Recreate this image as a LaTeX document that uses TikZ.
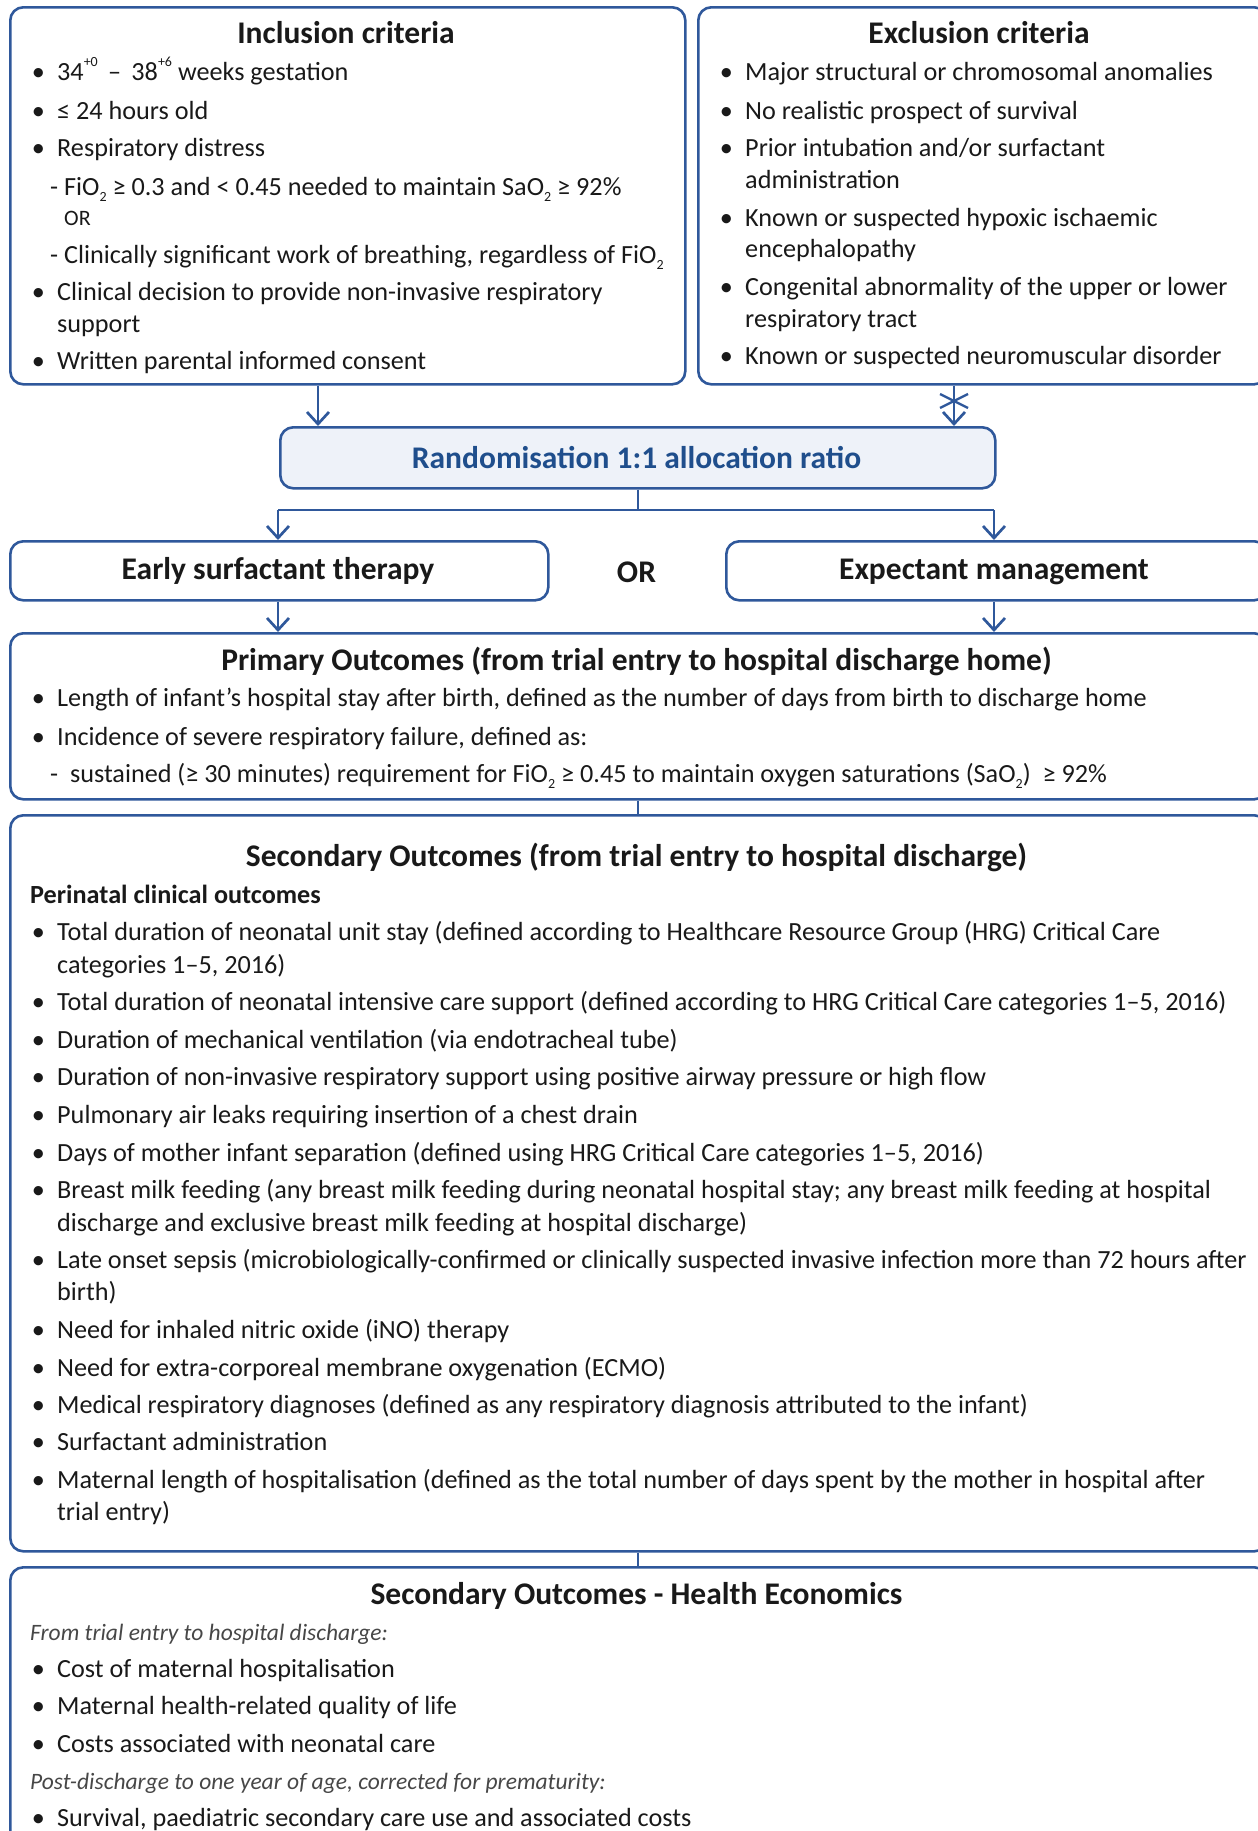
\documentclass[tikz,border=0pt]{standalone}
\usepackage{fontspec}
\setmainfont{Carlito}
\usetikzlibrary{arrows.meta}
\definecolor{bblue}{RGB}{47,88,155}
\definecolor{tblue}{RGB}{31,78,140}
\definecolor{rfill}{RGB}{238,242,249}
\definecolor{txtc}{RGB}{25,25,25}
\newcommand\subtwo{\raisebox{-0.55ex}{\fontsize{14}{14}\selectfont 2}}
\newcommand\supx[1]{\raisebox{1.05ex}{\fontsize{14}{14}\selectfont #1}}
\newcommand\bodyf{\fontsize{26.2}{30}\selectfont}
\newcommand\titf{\fontsize{31.5}{36}\selectfont\bfseries}
\tikzset{
  boxst/.style={draw=bblue, line width=2.6pt, rounded corners=13pt, rectangle, anchor=north west, inner sep=0pt},
  txt/.style={anchor=base west, inner sep=0pt, text=txtc, font=\bodyf},
  bul/.style={anchor=base, inner sep=0pt, text=txtc, font=\bodyf},
  tit/.style={anchor=base, inner sep=0pt, text=txtc, font=\titf},
  itl/.style={anchor=base west, inner sep=0pt, text=txtc!80, font=\fontsize{23.5}{28}\selectfont\itshape},
  arr/.style={draw=bblue, line width=2.7pt, -{Straight Barb[length=12pt,width=22pt]}},
  ln/.style={draw=bblue, line width=2.6pt},
}
\newcommand\bitem[4]{%
  \node[bul] (#1b) at ({#2-18.5},#3) {•};
  \node[txt] (#1) at (#2,#3) {#4};}
\begin{document}
\begin{tikzpicture}[x=1pt,y=-1pt]
\useasboundingbox (0,0) rectangle (1258,1831);
\clip (0,0) rectangle (1258,1831);
% boxes
\node[boxst, minimum width=675pt, minimum height=377pt] (inc) at (9,6) {};
\node[boxst, minimum width=569pt, minimum height=377pt] (exc) at (697,6) {};
\node[boxst, fill=rfill, minimum width=715pt, minimum height=61pt] (rnd) at (279,426) {};
\node[boxst, minimum width=538pt, minimum height=59pt] (early) at (9,540) {};
\node[boxst, minimum width=541pt, minimum height=59pt] (expt) at (725,540) {};
\node[boxst, minimum width=1257pt, minimum height=166pt] (prim) at (9,632) {};
\node[boxst, minimum width=1257pt, minimum height=736pt] (sec) at (9,814) {};
\node[boxst, minimum width=1257pt, minimum height=300pt] (he) at (9,1566) {};

% inclusion
\node[tit] (inct) at (346,43) {Inclusion criteria};
\bitem{i1}{57}{80}{34\supx{+0} \,–\, 38\supx{+6} weeks gestation}
\bitem{i2}{57}{119}{≤ 24 hours old}
\bitem{i3}{57}{156}{Respiratory distress}
\node[txt] (i4) at (50,195) {- FiO\subtwo{} ≥ 0.3 and < 0.45 needed to maintain SaO\subtwo{} ≥ 92\%};
\node[txt, font=\fontsize{22}{25}\selectfont] (i5) at (64,225) {OR};
\node[txt] (i6) at (50,263) {- Clinically significant work of breathing, regardless of FiO\subtwo};
\bitem{i7}{57}{300}{Clinical decision to provide non-invasive respiratory}
\node[txt] (i8) at (57,332) {support};
\bitem{i9}{57}{369}{Written parental informed consent}

% exclusion
\node[tit] (exct) at (979,43) {Exclusion criteria};
\bitem{e1}{745}{80}{Major structural or chromosomal anomalies}
\bitem{e2}{745}{119}{No realistic prospect of survival}
\bitem{e3}{745}{156}{Prior intubation and/or surfactant}
\node[txt] (e4) at (745,188) {administration};
\bitem{e5}{745}{226}{Known or suspected hypoxic ischaemic}
\node[txt] (e6) at (745,257) {encephalopathy};
\bitem{e7}{745}{295}{Congenital abnormality of the upper or lower}
\node[txt] (e8) at (745,327) {respiratory tract};
\bitem{e9}{745}{364}{Known or suspected neuromuscular disorder}

% randomisation
\node[tit, text=tblue] (rndt) at (636.5,468) {Randomisation 1:1 allocation ratio};
\node[tit] (earlyt) at (278,579) {Early surfactant therapy};
\node[tit] (ort) at (636.5,582) {OR};
\node[tit] (exptt) at (994,579) {Expectant management};

% connectors
\coordinate (ax1) at (318,0);
\coordinate (ax2) at (954,0);
\coordinate (bl) at (278,0);
\coordinate (br) at (994,0);
\coordinate (bj) at (0,510);
\draw[arr] (inc.south -| ax1) -- (rnd.north -| ax1);
\draw[arr] (exc.south -| ax2) -- (rnd.north -| ax2);
\coordinate (xc) at (954,401);
\draw[ln, line width=2.4pt] ([xshift=-14pt,yshift=-7pt]xc) -- ([xshift=14pt,yshift=7pt]xc);
\draw[ln, line width=2.4pt] ([xshift=-14pt,yshift=7pt]xc) -- ([xshift=14pt,yshift=-7pt]xc);
\draw[ln] (rnd.south) -- (rnd.south |- bj);
\draw[ln] (bl |- bj) -- (br |- bj);
\draw[arr] (bl |- bj) -- (early.north -| bl);
\draw[arr] (br |- bj) -- (expt.north -| br);
\draw[arr] (early.south -| bl) -- (prim.north -| bl);
\draw[arr] (expt.south -| br) -- (prim.north -| br);
\draw[ln] (prim.south -| rnd.south) -- (sec.north -| rnd.south);
\draw[ln] (sec.south -| rnd.south) -- (he.north -| rnd.south);

% primary
\node[tit] (primt) at (636.5,670) {Primary Outcomes (from trial entry to hospital discharge home)};
\bitem{p1}{57}{706}{Length of infant’s hospital stay after birth, defined as the number of days from birth to discharge home}
\bitem{p2}{57}{745}{Incidence of severe respiratory failure, defined as:}
\node[txt] (p3) at (50,782) {- \ sustained (≥ 30 minutes) requirement for FiO\subtwo{} ≥ 0.45 to maintain oxygen saturations (SaO\subtwo)\ \ ≥ 92\%};

% secondary
\node[tit] (sect) at (636.5,866) {Secondary Outcomes (from trial entry to hospital discharge)};
\node[txt, font=\bodyf\bfseries] (peri) at (30,903) {Perinatal clinical outcomes};
\bitem{s1}{57}{940}{Total duration of neonatal unit stay (defined according to Healthcare Resource Group (HRG) Critical Care}
\node[txt] (s1b2) at (57,973) {categories 1–5, 2016)};
\bitem{s2}{57}{1010}{Total duration of neonatal intensive care support (defined according to HRG Critical Care categories 1–5, 2016)}
\bitem{s3}{57}{1048}{Duration of mechanical ventilation (via endotracheal tube)}
\bitem{s4}{57}{1085}{Duration of non-invasive respiratory support using positive airway pressure or high flow}
\bitem{s5}{57}{1123}{Pulmonary air leaks requiring insertion of a chest drain}
\bitem{s6}{57}{1161}{Days of mother infant separation (defined using HRG Critical Care categories 1–5, 2016)}
\bitem{s7}{57}{1198}{Breast milk feeding (any breast milk feeding during neonatal hospital stay; any breast milk feeding at hospital}
\node[txt] (s7b2) at (57,1231) {discharge and exclusive breast milk feeding at hospital discharge)};
\bitem{s8}{57}{1268}{Late onset sepsis (microbiologically-confirmed or clinically suspected invasive infection more than 72 hours after}
\node[txt] (s8b2) at (57,1300) {birth)};
\bitem{s9}{57}{1338}{Need for inhaled nitric oxide (iNO) therapy}
\bitem{s10}{57}{1376}{Need for extra-corporeal membrane oxygenation (ECMO)}
\bitem{s11}{57}{1413}{Medical respiratory diagnoses (defined as any respiratory diagnosis attributed to the infant)}
\bitem{s12}{57}{1450}{Surfactant administration}
\bitem{s13}{57}{1488}{Maternal length of hospitalisation (defined as the total number of days spent by the mother in hospital after}
\node[txt] (s13b2) at (57,1520) {trial entry)};

% health economics
\node[tit] (het) at (636.5,1604) {Secondary Outcomes - Health Economics};
\node[itl] (h0) at (30,1640) {From trial entry to hospital discharge:};
\bitem{h1}{57}{1677}{Cost of maternal hospitalisation}
\bitem{h2}{57}{1714}{Maternal health-related quality of life}
\bitem{h3}{57}{1752}{Costs associated with neonatal care}
\node[itl] (h4) at (30,1789) {Post-discharge to one year of age, corrected for prematurity:};
\bitem{h5}{57}{1826}{Survival, paediatric secondary care use and associated costs}
\end{tikzpicture}
\end{document}
